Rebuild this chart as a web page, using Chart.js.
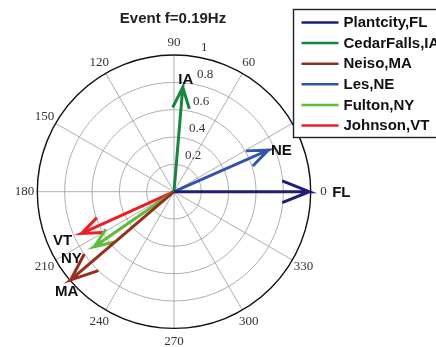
<!DOCTYPE html>
<html>
<head>
<meta charset="utf-8">
<script src="https://cdn.jsdelivr.net/npm/chart.js@4.4.1/dist/chart.umd.min.js"></script>
<style>
  body { margin: 0; background: #fff; }
  #wrap { width: 436px; height: 347px; }
</style>
</head>
<body>
<div id="wrap"><canvas id="compass"></canvas></div>
<script>
// data
const stations = ["Plantcity,FL", "CedarFalls,IA", "Neiso,MA", "Les,NE", "Fulton,NY", "Johnson,VT"];
const magnitudes = [0.99, 0.766, 0.994, 0.754, 0.708, 0.741];
const phases = [0, 85.2, 220.5, 23.8, 214.6, 204.3];
const angleTicks = [0, 30, 60, 90, 120, 150, 180, 210, 240, 270, 300, 330];
const radialTicks = [0.2, 0.4, 0.6, 0.8, 1];

const colors = ["#1c1f78", "#17853f", "#96301e", "#3553aa", "#5dbb3e", "#ee1c24"];
// pixel offsets of the station tags from the arrow tips
const tagOffsets = [[32, 1], [3, -7], [-4, 12], [13, 1], [-23, 12], [-19, 7]];

const rad = d => d * Math.PI / 180;

// compass arrow: 0 -> tip -> wing -> tip -> wing (same shape as matlab compass)
function arrow(r, deg) {
  const a = rad(deg), c = Math.cos(a), s = Math.sin(a);
  const shape = [[0, 0], [1, 0], [0.8, 0.08], [1, 0], [0.8, -0.08]];
  return shape.map(([u, v]) => ({ x: r * (u * c - v * s), y: r * (u * s + v * c) }));
}

const polarGrid = {
  id: "polarGrid",
  beforeDatasetsDraw(chart) {
    const { ctx, scales: { x, y } } = chart;
    const cx = x.getPixelForValue(0), cy = y.getPixelForValue(0);
    const unit = x.getPixelForValue(1) - cx;
    const rmax = radialTicks[radialTicks.length - 1];
    ctx.save();
    ctx.strokeStyle = "#9a9a9a";
    ctx.lineWidth = 0.8;
    // spokes
    angleTicks.slice(0, 6).forEach(d => {
      const dx = Math.cos(rad(d)) * rmax * unit, dy = Math.sin(rad(d)) * rmax * unit;
      ctx.beginPath();
      ctx.moveTo(cx - dx, cy + dy);
      ctx.lineTo(cx + dx, cy - dy);
      ctx.stroke();
    });
    // rings
    radialTicks.slice(0, -1).forEach(r => {
      ctx.beginPath();
      ctx.arc(cx, cy, r * unit, 0, Math.PI * 2);
      ctx.stroke();
    });
    ctx.strokeStyle = "#111";
    ctx.lineWidth = 1.4;
    ctx.beginPath();
    ctx.arc(cx, cy, rmax * unit, 0, Math.PI * 2);
    ctx.stroke();

    // tick labels
    ctx.fillStyle = "#333";
    ctx.font = "13px 'Liberation Serif', serif";
    ctx.textAlign = "center";
    ctx.textBaseline = "middle";
    angleTicks.forEach(d => {
      const rr = 1.093 * rmax * unit;
      ctx.fillText(String(d), cx + Math.cos(rad(d)) * rr, cy - Math.sin(rad(d)) * rr);
    });
    ctx.textAlign = "left";
    radialTicks.forEach(r => {
      const px = cx + Math.cos(rad(80)) * r * unit, py = cy - Math.sin(rad(80)) * r * unit;
      ctx.fillText(String(r), px + 7 - 3.7 * r, py - 9);
    });
    ctx.restore();
  },
  afterDatasetsDraw(chart) {
    const { ctx, scales: { x, y } } = chart;
    ctx.save();
    // station tags at arrow tips
    ctx.fillStyle = "#111";
    ctx.font = "bold 15px 'Liberation Sans', Arial, sans-serif";
    ctx.textAlign = "center";
    ctx.textBaseline = "middle";
    magnitudes.forEach((m, i) => {
      const tx = x.getPixelForValue(m * Math.cos(rad(phases[i])));
      const ty = y.getPixelForValue(m * Math.sin(rad(phases[i])));
      const tag = stations[i].split(",")[1];
      ctx.fillText(tag, tx + tagOffsets[i][0], ty + tagOffsets[i][1]);
    });

    // title
    ctx.font = "bold 15px 'Liberation Sans', Arial, sans-serif";
    ctx.fillStyle = "#222";
    ctx.fillText("Event f=0.19Hz", 173, 19);

    // legend box, runs off the right edge
    ctx.fillStyle = "#fff";
    ctx.fillRect(293.5, 9.5, 150, 128);
    ctx.strokeStyle = "#222";
    ctx.lineWidth = 1.4;
    ctx.strokeRect(293.5, 9.5, 150, 128);
    ctx.font = "bold 15px 'Liberation Sans', Arial, sans-serif";
    ctx.textAlign = "left";
    stations.forEach((s, i) => {
      const ly = 22.5 + i * 20.6;
      ctx.strokeStyle = colors[i];
      ctx.lineWidth = 2.5;
      ctx.beginPath();
      ctx.moveTo(301.5, ly);
      ctx.lineTo(338.5, ly);
      ctx.stroke();
      ctx.fillStyle = "#111";
      ctx.fillText(s, 343.5, ly + 0.5);
    });
    ctx.restore();
  }
};

new Chart(document.getElementById("compass"), {
  type: "scatter",
  data: {
    datasets: stations.map((s, i) => ({
      label: s,
      data: arrow(magnitudes[i], phases[i]),
      showLine: true,
      borderColor: colors[i],
      backgroundColor: colors[i],
      borderWidth: 3,
      pointRadius: 0,
      fill: false
    }))
  },
  options: {
    responsive: true,
    maintainAspectRatio: false,
    animation: false,
    layout: { padding: 0 },
    plugins: { legend: { display: false }, title: { display: false }, tooltip: { enabled: false } },
    scales: {
      x: { type: "linear", display: false, min: -1.2729, max: 1.9166 },
      y: { type: "linear", display: false, min: -1.1361, max: 1.4023 }
    }
  },
  plugins: [polarGrid]
});
</script>
</body>
</html>
